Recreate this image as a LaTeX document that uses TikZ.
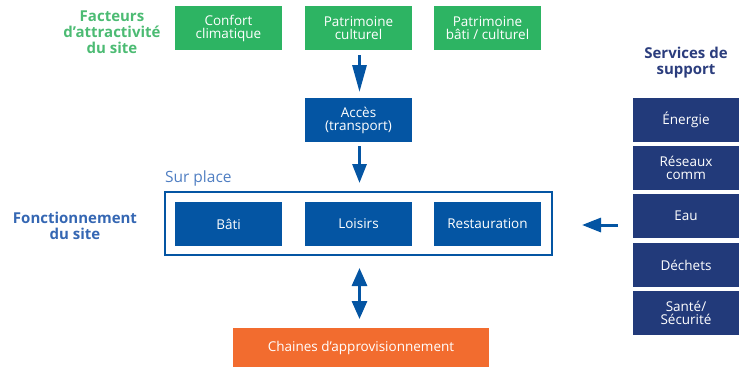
\documentclass[tikz,border=0pt]{standalone}
\usepackage{fontspec}
\setmainfont{Open Sans}
\usetikzlibrary{arrows.meta}
\definecolor{gbox}{HTML}{2DB463}
\definecolor{gtitle}{HTML}{4CBB73}
\definecolor{bbox}{HTML}{0455A3}
\definecolor{nbox}{HTML}{223A7A}
\definecolor{obox}{HTML}{F26C2F}
\definecolor{btitle}{HTML}{3567B3}
\definecolor{ntitle}{HTML}{2B3D7D}
\definecolor{splace}{HTML}{4F7EC2}
\tikzset{
  box/.style={minimum width=107pt, minimum height=44pt, inner sep=0pt, text=white, align=center, font=\fontsize{13.5}{13}\selectfont},
  greenbox/.style={box, fill=gbox},
  bluebox/.style={box, fill=bbox},
  navybox/.style={box, fill=nbox, minimum width=106pt},
  title/.style={align=center, font=\bfseries\fontsize{15}{16}\selectfont},
  arr/.style={draw=bbox, line width=3pt, -{Triangle[width=14pt,length=19pt]}},
  longarr/.style={draw=bbox, line width=3pt, -{Triangle[width=14pt,length=27pt]}},
  darr/.style={draw=bbox, line width=3pt, {Triangle[width=15pt,length=18pt]}-{Triangle[width=15pt,length=18pt]}},
}
\begin{document}
\begin{tikzpicture}[x=1pt,y=-1pt]
\useasboundingbox (0,0) rectangle (739,368);
% titles
\node[title, text=gtitle] (t1) at (112,32) {Facteurs\\d’attractivité\\du site};
\node[title, text=btitle] (t2) at (75,226) {Fonctionnement\\du site};
\node[title, text=ntitle] (t3) at (686,63) {Services de\\support};
% green
\node[greenbox] (conf) at (228.5,28) {Confort\\climatique};
\node[greenbox] (patc) at (358.5,28) {Patrimoine\\culturel};
\node[greenbox] (patb) at (487.5,28) {Patrimoine\\bâti / culturel};
% acces
\node[bluebox] (acc) at (358.5,120) {Accès\\(transport)};
% sur place
\node[draw=bbox, line width=1.2pt, minimum width=387pt, minimum height=63pt, inner sep=0pt] (sp) at (358.5,223.5) {};
\node[anchor=base west, inner sep=0pt, text=splace, font=\fontsize{15.5}{16}\selectfont] (spl) at (sp.north west) [yshift=8.5pt, xshift=0.5pt] {Sur place};
\node[bluebox] (bati) at (228.5,224) {Bâti};
\node[bluebox] (lois) at (358.5,224) {Loisirs};
\node[bluebox] (rest) at (487.5,224) {Restauration};
% orange
\node[box, fill=obox, minimum width=256pt, minimum height=39pt] (chain) at (361,347.5) {Chaines d’approvisionnement};
% right
\node[navybox] (ener) at (686,120) {Énergie};
\node[navybox] (rese) at (686,168) {Réseaux\\comm};
\node[navybox] (eau) at (686,216) {Eau};
\node[navybox] (dech) at (686,265) {Déchets};
\node[navybox] (sant) at (686,313) {Santé/\\Sécurité};
% arrows
\coordinate (a1s) at (359.5,55);
\coordinate (a1e) at (359.5,92);
\draw[longarr] (a1s) -- (a1e);
\coordinate (a2s) at (359.5,146);
\coordinate (a2e) at (359.5,183);
\draw[arr] (a2s) -- (a2e);
\coordinate (a3s) at (359.5,268);
\coordinate (a3e) at (359.5,319);
\draw[darr] (a3s) -- (a3e);
\coordinate (a4s) at (618,225);
\coordinate (a4e) at (582,225);
\draw[arr] (a4s) -- (a4e);
\end{tikzpicture}
\end{document}
